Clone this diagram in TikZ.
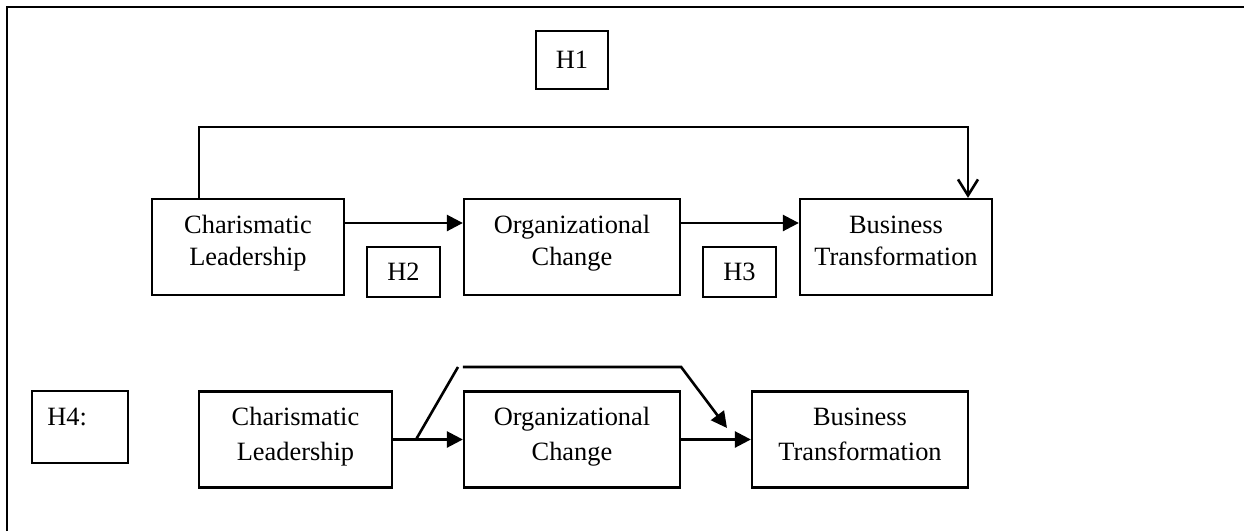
\documentclass[tikz,border=0pt]{standalone}
\usepackage{fontspec}
\setmainfont{Liberation Serif}
\usetikzlibrary{arrows.meta,calc}
\newcommand\twoline[2]{\begin{tabular}[t]{@{}c@{}}#1\\#2\end{tabular}}
\begin{document}
\begin{tikzpicture}[x=0.5pt,y=-0.5pt,
  varbox/.style={draw,line width=1.15pt,inner sep=0pt,minimum height=48pt},
  hbox/.style={draw,line width=1.15pt,inner sep=0pt,font=\fontsize{13.2pt}{15.75pt}\selectfont},
  lbltop/.style={inner sep=0pt,anchor=base,font=\fontsize{13.2pt}{15.75pt}\selectfont},
  lblbot/.style={inner sep=0pt,anchor=base,font=\fontsize{13.2pt}{17.5pt}\selectfont},
  plain/.style={line width=1.3pt},
  flow/.style={line width=1.3pt,-{Triangle[length=8pt,width=8pt]}},
  barb/.style={line width=1.3pt,-{Straight Barb[length=8pt,width=10pt]}}
]
\useasboundingbox (0,0) rectangle (1244,531);

% outer frame (left and top edges)
\draw[line width=1.15pt] (7,531) -- (7,7) -- (1244,7);

% ---- direct model ----
\node[varbox,minimum width=96pt]  (cl) at (248,247) {};
\node[varbox,minimum width=108pt] (oc) at (572,247) {};
\node[varbox,minimum width=96pt]  (bt) at (896,247) {};
\node[lbltop] (clt) at ([yshift=-18pt]cl.north) {\twoline{Charismatic}{Leadership}};
\node[lbltop] (oct) at ([yshift=-18pt]oc.north) {\twoline{Organizational}{Change}};
\node[lbltop] (btt) at ([yshift=-18pt]bt.north) {\twoline{Business}{Transformation}};

\node[hbox,minimum width=36pt,minimum height=29pt]   (h1) at (572,60)    {H1};
\node[hbox,minimum width=36.5pt,minimum height=25pt] (h2) at (403.5,272) {H2};
\node[hbox,minimum width=36.5pt,minimum height=25pt] (h3) at (739.5,272) {H3};

\draw[flow] ([yshift=12pt]cl.east) -- ([yshift=12pt]cl.east -| oc.west);
\draw[flow] ([yshift=12pt]oc.east) -- ([yshift=12pt]oc.east -| bt.west);

\coordinate (loopTop) at (0,127);
\coordinate (loopStart) at ([xshift=24pt]cl.north west);
\coordinate (loopEnd) at ([xshift=36pt]bt.north);
\draw[barb] (loopStart) |- (loopEnd |- loopTop) -- (loopEnd);

% ---- mediation model ----
\node[draw,line width=1.15pt,inner sep=0pt,minimum width=48pt,minimum height=36pt] (h4) at (80,427) {};
\node[inner sep=0pt,anchor=base west,font=\fontsize{13.2pt}{15.75pt}\selectfont] (h4t)
  at ([xshift=8pt,yshift=-18pt]h4.north west) {H4:};

\node[varbox,minimum width=96.5pt] (cl2) at (295.5,439.5) {};
\node[varbox,minimum width=108pt]  (oc2) at (572,439.5) {};
\node[varbox,minimum width=108pt]  (bt2) at (860,439.5) {};
\node[lblbot] (cl2t) at ([yshift=-17.5pt]cl2.north) {\twoline{Charismatic}{Leadership}};
\node[lblbot] (oc2t) at ([yshift=-17.5pt]oc2.north) {\twoline{Organizational}{Change}};
\node[lblbot] (bt2t) at ([yshift=-17.5pt]bt2.north) {\twoline{Business}{Transformation}};

\draw[flow] (cl2.east) -- (oc2.west);
\draw[flow] (oc2.east) -- (bt2.west);

\coordinate (fork) at (416,439.5);
\coordinate (riseEnd) at (458,367);
\coordinate (bridgeL) at (oc2.west |- riseEnd);
\coordinate (bridgeR) at (oc2.east |- riseEnd);
\coordinate (dropTip) at (727,428);
\draw[plain] (fork) -- (riseEnd);
\draw[flow] (bridgeL) -- (bridgeR) -- (dropTip);
\end{tikzpicture}
\end{document}
